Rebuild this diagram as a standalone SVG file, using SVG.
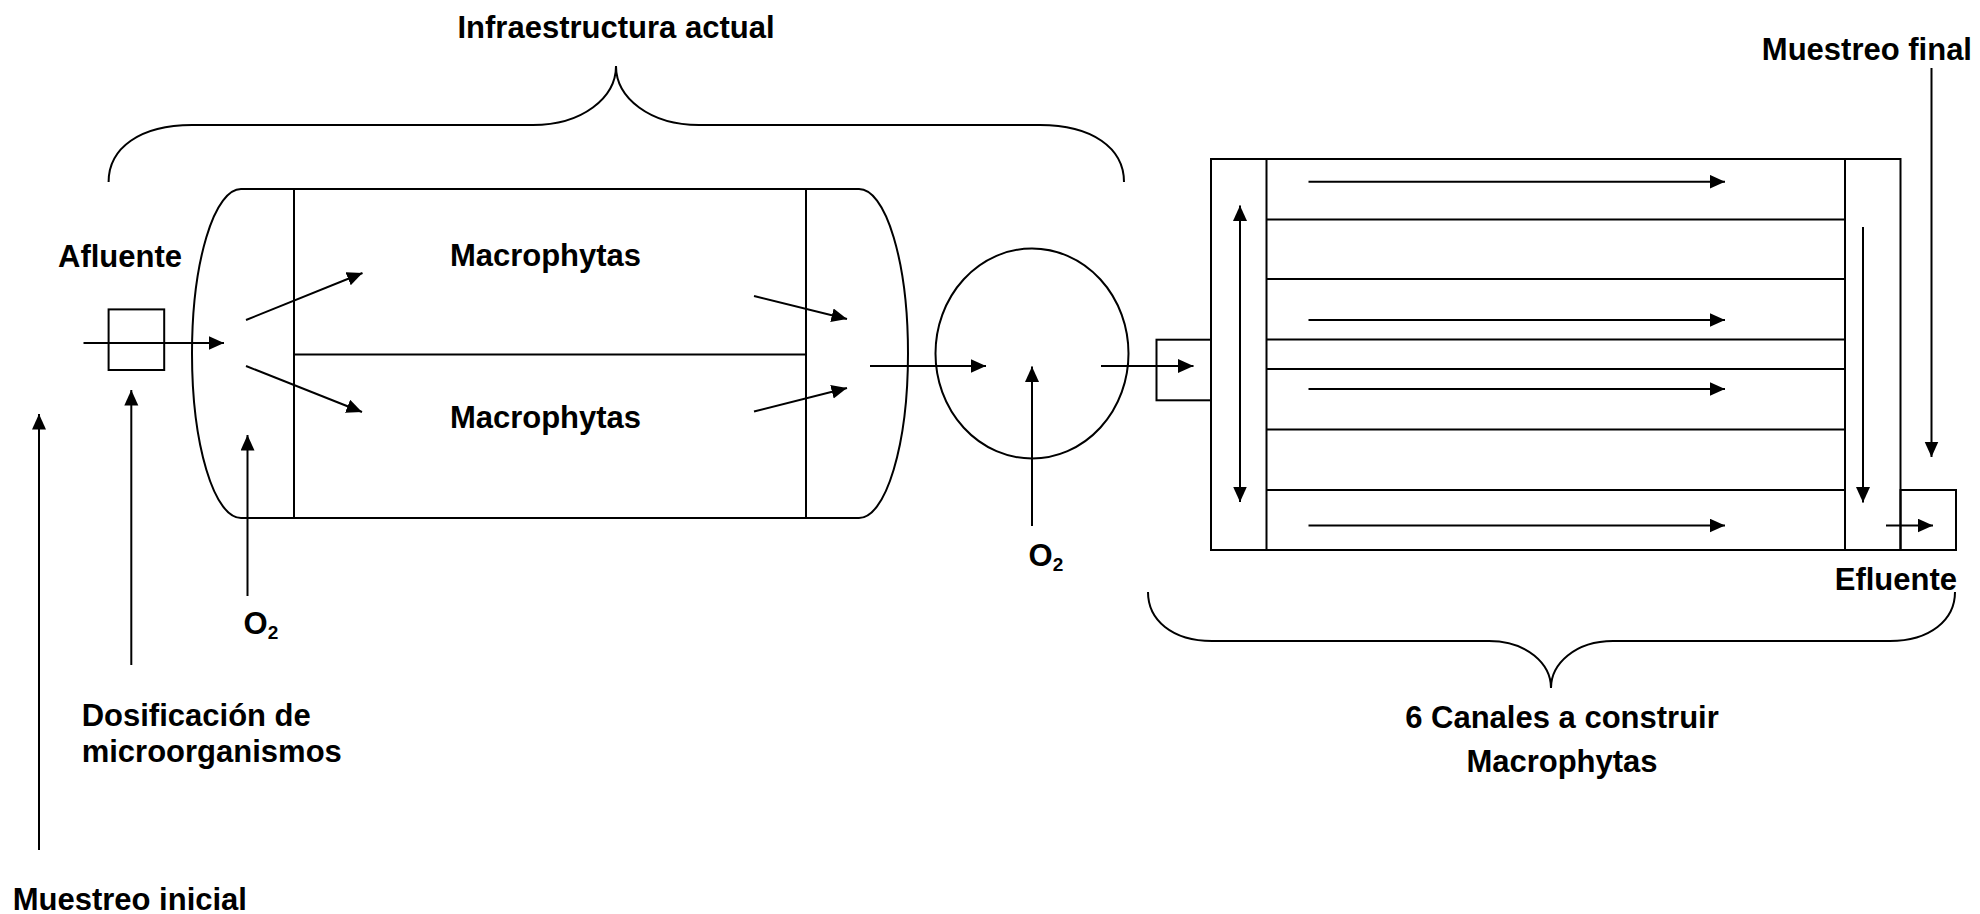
<svg xmlns="http://www.w3.org/2000/svg" width="1980" height="914" viewBox="0 0 1980 914">
  <style>
    .ln { fill: none; stroke: #000; stroke-width: 2; }
    .arr { fill: none; stroke: #000; stroke-width: 2; marker-end: url(#head); }
    .lbl { font-family: "Liberation Sans", Arial, sans-serif; font-weight: bold; font-size: 31px; fill: #000; }
    .sub { font-size: 19px; }
  </style>
  <defs>
    <marker id="head" markerUnits="userSpaceOnUse" markerWidth="17" markerHeight="16" refX="15.5" refY="7" orient="auto">
      <path d="M0,0 L15.5,7 L0,14 z" fill="#000"/>
    </marker>
    <marker id="tail" markerUnits="userSpaceOnUse" markerWidth="17" markerHeight="16" refX="15.5" refY="7" orient="auto-start-reverse">
      <path d="M0,0 L15.5,7 L0,14 z" fill="#000"/>
    </marker>
  </defs>
  <rect width="1980" height="914" fill="#fff"/>

  <!-- brace over the existing lagoon -->
  <g id="brace-actual">
    <path class="ln" d="M108.6,182 C108.6,148 140,125 192,125 L533,125 C582,125 616,98 616,66 C616,98 650,125 699,125 L1040,125 C1092,125 1124,148 1124,182"/>
    <text class="lbl" x="616" y="38" text-anchor="middle">Infraestructura actual</text>
  </g>

  <!-- existing lagoon with two macrophyte cells -->
  <g id="tank">
    <path class="ln" d="M241,189 A49,164.5 0 0 0 241,518 L859,518 A49,164.5 0 0 0 859,189 Z"/>
    <line class="ln" x1="294" y1="189" x2="294" y2="518"/>
    <line class="ln" x1="806" y1="189" x2="806" y2="518"/>
    <line class="ln" x1="294" y1="354.5" x2="806" y2="354.5"/>
    <text class="lbl" x="545.5" y="266" text-anchor="middle">Macrophytas</text>
    <text class="lbl" x="545.5" y="428" text-anchor="middle">Macrophytas</text>
  </g>

  <!-- inlet -->
  <g id="afluente">
    <rect class="ln" x="108.6" y="309.4" width="55.6" height="60.6"/>
    <text class="lbl" x="58" y="267">Afluente</text>
  </g>

  <!-- aeration basin -->
  <g id="aerator">
    <ellipse class="ln" cx="1032" cy="353.5" rx="96.5" ry="105"/>
  </g>

  <!-- inlet box of the new channels -->
  <g id="inlet-box">
    <rect class="ln" x="1156.5" y="339.7" width="54.5" height="60.6"/>
  </g>

  <!-- six new channels -->
  <g id="channels">
    <rect class="ln" x="1211" y="159" width="689.5" height="391"/>
    <line class="ln" x1="1266.5" y1="159" x2="1266.5" y2="550"/>
    <line class="ln" x1="1845" y1="159" x2="1845" y2="550"/>
    <line class="ln" x1="1266.5" y1="219.5" x2="1845" y2="219.5"/>
    <line class="ln" x1="1266.5" y1="279" x2="1845" y2="279"/>
    <line class="ln" x1="1266.5" y1="339.5" x2="1845" y2="339.5"/>
    <line class="ln" x1="1266.5" y1="369" x2="1845" y2="369"/>
    <line class="ln" x1="1266.5" y1="429.5" x2="1845" y2="429.5"/>
    <line class="ln" x1="1266.5" y1="490" x2="1845" y2="490"/>
  </g>

  <!-- outlet -->
  <g id="efluente">
    <rect class="ln" x="1900.5" y="490" width="55.5" height="60"/>
    <text class="lbl" x="1957" y="590" text-anchor="end">Efluente</text>
  </g>

  <!-- brace under the new channels -->
  <g id="brace-canales">
    <path class="ln" d="M1148,592 C1148,620 1172,641 1212,641 L1489,641 C1527,641 1551,664 1551,688 C1551,664 1575,641 1613,641 L1890,641 C1930,641 1955,620 1955,592"/>
    <text class="lbl" x="1562" y="728" text-anchor="middle">6 Canales a construir</text>
    <text class="lbl" x="1562" y="772" text-anchor="middle">Macrophytas</text>
  </g>

  <!-- side labels -->
  <g id="labels">
    <text class="lbl" x="1972" y="60" text-anchor="end">Muestreo final</text>
    <text class="lbl" x="243.5" y="634">O<tspan class="sub" dy="5">2</tspan></text>
    <text class="lbl" x="1028.5" y="566">O<tspan class="sub" dy="5">2</tspan></text>
    <text class="lbl" x="81.7" y="726">Dosificación de</text>
    <text class="lbl" x="81.7" y="762">microorganismos</text>
    <text class="lbl" x="12.7" y="910">Muestreo inicial</text>
  </g>

  <!-- flow and input arrows -->
  <g id="connectors">
    <line class="arr" x1="83.5" y1="343" x2="224" y2="343"/>
    <line class="arr" x1="246" y1="320" x2="362.5" y2="273"/>
    <line class="arr" x1="246" y1="366" x2="362" y2="412"/>
    <line class="arr" x1="754" y1="296" x2="847" y2="319"/>
    <line class="arr" x1="754" y1="411.5" x2="847" y2="388"/>
    <line class="arr" x1="870" y1="366" x2="986" y2="366"/>
    <line class="arr" x1="1101" y1="366" x2="1193.5" y2="366"/>

    <line class="arr" x1="39" y1="850" x2="39" y2="414"/>
    <line class="arr" x1="131.3" y1="665" x2="131.3" y2="390"/>
    <line class="arr" x1="247.5" y1="596" x2="247.5" y2="435"/>
    <line class="arr" x1="1032" y1="526" x2="1032" y2="366.5"/>

    <line class="arr" x1="1240" y1="205.5" x2="1240" y2="502" style="marker-start:url(#tail)"/>
    <line class="arr" x1="1863" y1="227" x2="1863" y2="502.5"/>
    <line class="arr" x1="1931.5" y1="68" x2="1931.5" y2="457"/>

    <line class="arr" x1="1308.5" y1="181.7" x2="1725" y2="181.7"/>
    <line class="arr" x1="1308.5" y1="320" x2="1725" y2="320"/>
    <line class="arr" x1="1308.5" y1="389" x2="1725" y2="389"/>
    <line class="arr" x1="1308.5" y1="525.5" x2="1725" y2="525.5"/>
    <line class="arr" x1="1886" y1="525.5" x2="1933" y2="525.5"/>
  </g>
</svg>
